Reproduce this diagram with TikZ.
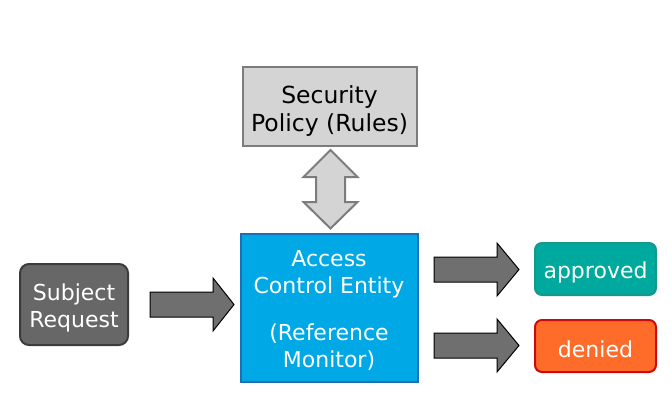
\documentclass[tikz,border=0pt]{standalone}
\usepackage{fontspec}
\setmainfont{DejaVu Sans}
\definecolor{secfill}{HTML}{D4D4D4}
\definecolor{secdraw}{HTML}{7C7C7C}
\definecolor{acefill}{HTML}{00A9E6}
\definecolor{acedraw}{HTML}{1D6FB5}
\definecolor{subfill}{HTML}{676767}
\definecolor{subdraw}{HTML}{3C3C3C}
\definecolor{appfill}{HTML}{00A99D}
\definecolor{appdraw}{HTML}{16968C}
\definecolor{denfill}{HTML}{FF6C2A}
\definecolor{dendraw}{HTML}{CC0A0A}
\definecolor{arrfill}{HTML}{6F6F6F}
\begin{document}
\begin{tikzpicture}[x=1pt,y=-1pt,
  box/.style={rectangle,inner sep=0pt,line width=2pt},
  rbox/.style={box,rounded corners=7pt},
  txt/.style={inner sep=0pt,align=center,font=\fontsize{22}{27}\selectfont},
  blockarrow/.style={fill=arrfill,draw=black,line width=1pt,line join=miter},
  dblarrow/.style={fill=secfill,draw=secdraw,line width=2pt,line join=miter}]
\useasboundingbox (0,0) rectangle (672,408);
% boxes
\node[box,fill=secfill,draw=secdraw,minimum width=174pt,minimum height=79pt] (sec) at (329.5,106.5) {};
\node[txt,text=black,font=\fontsize{23.5}{27.5}\selectfont] (secT) at ([yshift=-4.5pt]sec.center) {Security\\Policy (Rules)};
\node[box,fill=acefill,draw=acedraw,minimum width=177pt,minimum height=148pt] (ace) at (329,307.5) {};
\node[txt,text=white] (aceT) at ([yshift=-2.5pt]ace.center) {Access\\Control Entity\\[20pt](Reference\\Monitor)};
\node[rbox,fill=subfill,draw=subdraw,minimum width=108pt,minimum height=81pt,rounded corners=9pt] (sub) at (74,304.5) {};
\node[txt,text=white] (subT) at ([yshift=-3.5pt]sub.center) {Subject\\Request};
\node[rbox,fill=appfill,draw=appdraw,minimum width=121pt,minimum height=52pt] (app) at (595.5,269) {};
\node[txt,text=white] (appT) at ([yshift=-3.5pt]app.center) {approved};
\node[rbox,fill=denfill,draw=dendraw,minimum width=121pt,minimum height=52pt] (den) at (595.5,346) {};
\node[txt,text=white] (denT) at ([yshift=-3.5pt]den.center) {denied};
% block arrows
\draw[blockarrow] (150,292)--(213,292)--(213,278)--(234,304.5)--(213,331)--(213,317)--(150,317)--cycle;
\draw[blockarrow] (434,257)--(497,257)--(497,243)--(519,269.5)--(497,296)--(497,282)--(434,282)--cycle;
\draw[blockarrow] (434,333)--(497,333)--(497,319)--(519,345.5)--(497,372)--(497,358)--(434,358)--cycle;
\draw[dblarrow] (330.5,150)--(357.5,177)--(345,177)--(345,202)--(357.5,202)--(330.5,228.5)--(303.5,202)--(316,202)--(316,177)--(303.5,177)--cycle;
\end{tikzpicture}
\end{document}
